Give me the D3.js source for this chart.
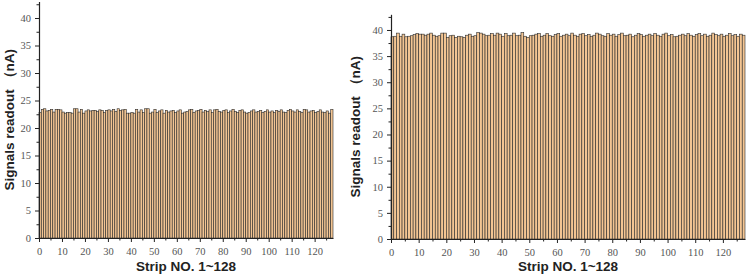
<!DOCTYPE html>
<html>
<head>
<meta charset="utf-8">
<script src="https://cdn.jsdelivr.net/npm/d3@7"></script>
<style>
  body { margin: 0; background: #fff; }
  .tick text { font-family: "Liberation Serif", "DejaVu Serif", serif; fill: #555; font-size: 10.5px; }
  .lab { font-family: "Liberation Sans", Arial, sans-serif; font-weight: bold; fill: #222; font-size: 13.5px; }
</style>
</head>
<body>
<div class="chart"></div>
<script>
// Signal readout per strip (nA), strips 1..128
let leftValues = [
  22.8, 23.4, 23.5, 23.1, 23.2, 23.4, 22.9, 23.4, 23.4, 23.3, 22.9, 22.7, 22.8, 22.8, 22.7, 23.5,
  23.5, 22.9, 23.4, 22.7, 23.1, 23.3, 23.1, 23.2, 23.2, 23.0, 23.3, 23.2, 22.8, 23.2, 23.3, 23.1,
  23.4, 23.0, 23.5, 23.2, 23.3, 23.4, 22.7, 22.7, 22.8, 22.7, 23.4, 22.9, 23.3, 22.8, 23.5, 23.5,
  22.7, 22.9, 23.4, 22.8, 23.1, 23.3, 22.7, 23.2, 22.9, 23.1, 23.2, 22.8, 23.1, 23.3, 22.7, 22.9,
  23.0, 23.3, 23.4, 22.8, 23.1, 23.2, 23.4, 22.9, 23.2, 23.0, 23.3, 22.8, 23.3, 23.4, 23.0, 22.9,
  23.2, 23.3, 22.8, 23.1, 23.4, 23.0, 22.8, 23.2, 23.3, 22.9, 22.7, 22.8, 23.1, 23.3, 22.9, 23.0,
  23.2, 22.8, 23.0, 23.3, 22.9, 23.1, 22.8, 23.2, 23.0, 23.3, 22.9, 22.8, 23.2, 23.4, 23.1, 22.9,
  23.3, 23.0, 22.8, 23.4, 23.3, 22.9, 23.1, 23.2, 22.8, 23.0, 23.3, 22.9, 22.8, 23.1, 22.7, 23.4
];
let rightValues = [
  38.7, 38.8, 39.4, 38.8, 39.2, 38.7, 38.8, 38.9, 39.1, 39.3, 39.2, 39.2, 39.0, 39.2, 39.4, 39.0,
  38.8, 38.9, 39.4, 39.4, 38.6, 38.9, 39.0, 38.6, 38.8, 38.7, 38.6, 39.0, 39.2, 38.8, 38.9, 39.5,
  39.4, 39.2, 38.9, 39.0, 39.3, 39.0, 39.4, 39.2, 38.8, 39.3, 38.9, 39.0, 39.4, 38.9, 39.0, 39.5,
  38.8, 38.6, 38.9, 39.0, 39.2, 39.3, 38.8, 39.0, 39.3, 38.9, 38.8, 39.1, 39.3, 38.8, 39.0, 39.2,
  38.9, 39.4, 39.0, 38.8, 39.2, 39.3, 38.9, 39.1, 38.8, 39.0, 39.4, 39.2, 38.9, 38.8, 39.3, 39.0,
  39.2, 38.8, 39.1, 39.4, 38.9, 39.0, 39.2, 38.7, 39.0, 39.3, 39.1, 38.8, 39.0, 39.2, 38.9, 39.3,
  39.0, 38.8, 39.2, 39.4, 38.9, 39.1, 38.7, 38.8, 39.0, 39.2, 38.9, 39.3, 39.0, 38.8, 39.1, 39.3,
  38.9, 39.2, 38.8, 39.0, 39.4, 39.1, 38.9, 39.2, 38.8, 39.0, 39.3, 38.9, 39.1, 38.8, 39.2, 39.0
];
let strips = d3.range(1, 129);
let xTicks = [0, 10, 20, 30, 40, 50, 60, 70, 80, 90, 100, 110, 120];
let yTicks = [0, 5, 10, 15, 20, 25, 30, 35, 40];
let yLabel = 'Signals readout \uFF08nA)';
let xLabel = 'Strip NO. 1~128';

let svg = d3.select('.chart')
  .append('svg')
    .attr('width', 749)
    .attr('height', 275);

function panel(values, box) {
  let g = svg.append('g')
    .attr('transform', `translate(${box.left}, ${box.top})`);

  let xScale = d3.scaleLinear().domain([0, 128]).range([0, box.width]);
  let yScale = d3.scaleLinear().domain([0, 43]).range([box.height, 0]);

  g.selectAll('rect.bar')
    .data(values)
    .enter().append('rect')
      .attr('class', 'bar')
      .attr('x', (d, i) => xScale(strips[i] - 1))
      .attr('width', xScale(1) - xScale(0))
      .attr('y', d => yScale(d))
      .attr('height', d => box.height - yScale(d))
      .style('fill', '#f3c593')
      .style('stroke', '#2a2a2a')
      .style('stroke-width', 0.6);

  // minor ticks
  g.append('g')
    .attr('transform', `translate(0, ${box.height})`)
    .call(d3.axisBottom(xScale).tickValues(d3.range(5, 128, 10)).tickSize(2.5).tickFormat(''))
    .call(s => s.select('.domain').remove());
  g.append('g')
    .call(d3.axisLeft(yScale).tickValues(d3.range(2.5, 43, 5)).tickSize(2.5).tickFormat(''))
    .call(s => s.select('.domain').remove());

  let xAxis = d3.axisBottom(xScale)
    .tickValues(xTicks)
    .tickSizeInner(4)
    .tickSizeOuter(0)
    .tickPadding(6);
  g.append('g')
    .attr('transform', `translate(0, ${box.height})`)
    .call(xAxis);

  let yAxis = d3.axisLeft(yScale)
    .tickValues(yTicks)
    .tickSizeInner(4)
    .tickSizeOuter(0)
    .tickPadding(4);
  g.append('g').call(yAxis);

  g.selectAll('.domain').style('stroke', '#222').style('stroke-width', 1.2);
  g.selectAll('.tick line').style('stroke', '#222');

  g.append('text')
    .attr('class', 'lab')
    .attr('x', box.width / 2)
    .attr('y', 271 - box.top)
    .attr('text-anchor', 'middle')
    .text(xLabel);

  g.append('text')
    .attr('class', 'lab')
    .attr('transform', `translate(${box.yLabelX}, ${box.height / 2}) rotate(-90)`)
    .attr('text-anchor', 'middle')
    .text(yLabel);
}

panel(leftValues, {left: 39, top: 1.5, width: 294, height: 236.5, yLabelX: -25});
panel(rightValues, {left: 391, top: 14.3, width: 354, height: 224.7, yLabelX: -31});
</script>
</body>
</html>
